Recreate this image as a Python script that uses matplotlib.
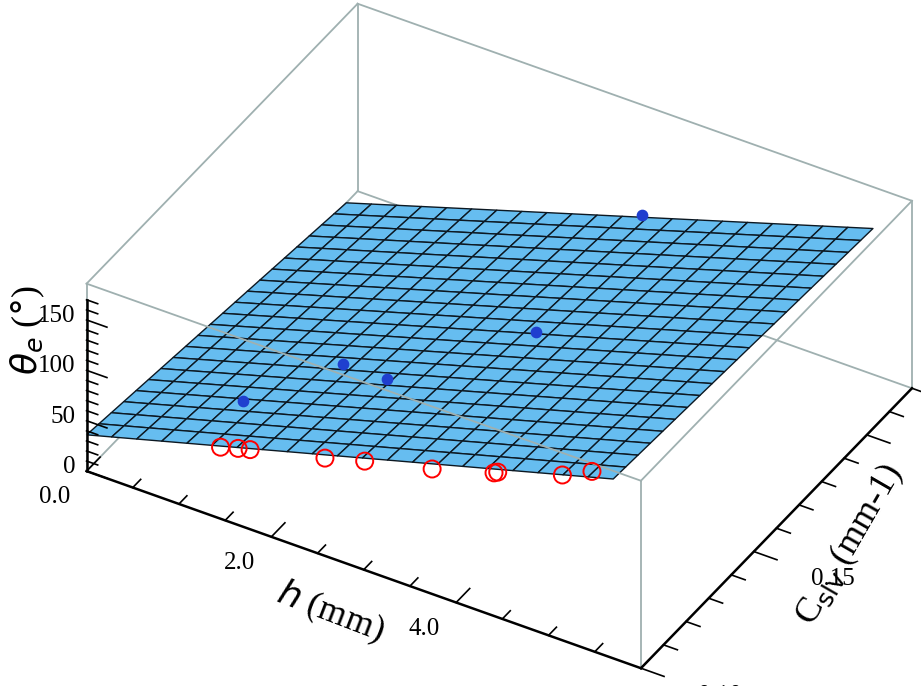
import numpy as np
import matplotlib
matplotlib.use("Agg")
import matplotlib.pyplot as plt

# fitted surface model: theta = c0 + c1*h + c2*dC + c3*h*dC  (dC = C - 0.10)
coef = [36.0, 24.9, -313.0, 28.0]
surf_h = [0.0, 5.7]
surf_c = [0.10, 0.215]
h_range = [0.0, 6.0]
c_range = [0.10, 0.22]
z_range = [0, 186]

red_h = [1.45, 1.64, 1.77, 2.58, 3.01, 3.74, 4.41, 4.45, 5.15, 5.47]
red_c = [0.10] * 10
red_z = [71, 76, 79, 97, 108, 124, 142, 144, 164, 178]

blue_h = [1.2, 1.8, 2.4, 3.4, 3.2]
blue_c = [0.12, 0.14, 0.135, 0.16, 0.215]
blue_z = [62, 72, 89, 110, 92]

h_ticks = [0.0, 2.0, 4.0]
c_ticks = [0.10, 0.15, 0.20]
z_ticks = [0, 50, 100, 150]

def model(h, c):
    d = c - 0.10
    return coef[0] + coef[1]*h + coef[2]*d + coef[3]*h*d

plt.rcParams['font.family'] = ['Liberation Serif', 'DejaVu Serif']
fig = plt.figure(figsize=(9.21, 6.86), dpi=100)
ax = fig.add_axes([-0.073, -0.26, 1.2, 1.5], projection='3d')
ax.set_proj_type('ortho')
ax.computed_zorder = False
x0, x1 = h_range; y0, y1 = c_range; z0, z1 = z_range
gray = '#9fb0b0'
for e in [((x0, x0), (y0, y1), (z0, z0)), ((x0, x1), (y1, y1), (z0, z0)),
          ((x0, x0), (y1, y1), (z0, z1))]:
    ax.plot(*e, color=gray, lw=1.3, zorder=1)
H, C = np.meshgrid(np.linspace(*surf_h, 22), np.linspace(*surf_c, 22))
Z = model(H, C)
ax.plot_surface(H, C, Z, color='#66bdf0', edgecolor='#0c1822', linewidth=1.0,
                shade=False, alpha=1, zorder=2)
ax.scatter(blue_h, blue_c, blue_z, color='#1f3fcf', s=55, depthshade=False, zorder=4)
ax.scatter(red_h, red_c, red_z, facecolor='none', edgecolor='red', s=150, linewidth=1.4,
           depthshade=False, zorder=4)

ax.set_xlim(*h_range); ax.set_ylim(*c_range); ax.set_zlim(*z_range)
ax.view_init(elev=37.3, azim=-59.6)
ax.set_box_aspect((1.2, 1.0, 0.44), zoom=0.82)
ax.set_axis_off()
front = [((x0, x1), (y0, y0), (z1, z1)), ((x1, x1), (y0, y1), (z1, z1)),
         ((x0, x0), (y0, y1), (z1, z1)), ((x0, x1), (y1, y1), (z1, z1)),
         ((x0, x0), (y0, y0), (z0, z1)), ((x1, x1), (y0, y0), (z0, z1)),
         ((x1, x1), (y1, y1), (z0, z1))]
for e in front:
    ax.plot(*e, color=gray, lw=1.3, zorder=3)
for e in [((x0, x1), (y0, y0), (z0, z0)), ((x1, x1), (y0, y1), (z0, z0)),
          ((x0, x0), (y0, y0), (z0, 170))]:
    ax.plot(*e, color='k', lw=1.8, zorder=3)
for t in np.arange(0, 6.01, 0.5):
    ln = 0.006 if t in h_ticks else 0.0035
    ax.plot([t, t], [y0, y0 + ln], [z0, z0], color='k', lw=1.2, zorder=3)
for t in np.arange(0.10, 0.2201, 0.01):
    ln = 0.25 if any(abs(t - c) < 1e-6 for c in c_ticks) else 0.15
    ax.plot([x1, x1 + ln], [t, t], [z0, z0], color='k', lw=1.2, zorder=3)
for t in range(0, 171, 10):
    ln = 0.22 if t in z_ticks else 0.12
    ax.plot([x0, x0 + ln], [y0, y0], [t, t], color='k', lw=1.2, zorder=3)
for t in h_ticks:
    ax.text(t - 0.05, y0 - 0.012, z0, f'{t:.1f}', fontsize=18, ha='center', va='center')
for t in c_ticks:
    ax.text(x1 + 0.85, t, z0, f'{t:.2f}', fontsize=18, ha='center', va='center')
for t in z_ticks:
    ax.text(x0 - 0.12, y0, t, f'{t}', fontsize=18, ha='right', va='center')
fig.text(330 / 921, 1 - 612 / 686, r'$h$ (mm)', fontsize=26, ha='center', va='center', rotation=-21)
fig.text(850 / 921, 1 - 545 / 686, r'C$_{\rm slv}$ (mm-1)', fontsize=26, ha='center', va='center', rotation=60)
fig.text(28 / 921, 1 - 330 / 686, r'$\theta_e$ ($\degree$)', fontsize=26, ha='center', va='center', rotation=90)
fig.savefig('out.png', dpi=100)
